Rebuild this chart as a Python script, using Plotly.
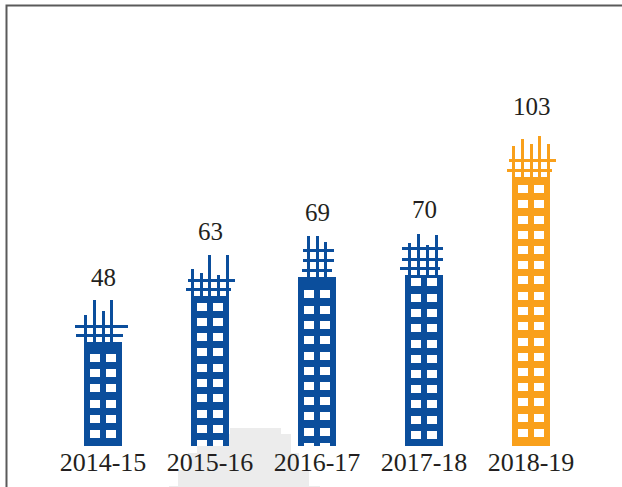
import plotly.graph_objects as go

# --- data ---
categories = ["2014-15", "2015-16", "2016-17", "2017-18", "2018-19"]
values = [48, 63, 69, 70, 103]

# --- styling / layout ---
BLUE = "#0B4E9C"
ORANGE = "#F9A01B"
colors = [BLUE, BLUE, BLUE, BLUE, ORANGE]
TEXT = "#231F20"
FONT = "Liberation Serif"
W, H = 622, 487
BASE = 446            # pixel row of the baseline
PX_PER_UNIT = 3.03
STEP = 107            # pixels between categories
FIRST = 103           # pixel column of first category

# pictogram decoration, in pixels relative to the tower centre / tower top
rod_w = 3
bar_h = 3
towers = [
    dict(rods=[(-19, 15), (-10, 0), (-1, 11), (7, 0)],
         cross=[(25, -28, 25), (34, -27, 20)], body=42,
         win_bottom=16, rows=6),
    dict(rods=[(-19, 14), (-10, 18), (-2, 0), (7, 20), (16, 0)],
         cross=[(24, -22, 25), (33, -24, 21)], body=41,
         win_bottom=6, rows=10),
    dict(rods=[(-10, 0), (-1, 0), (7, 6)],
         cross=[(13, -14, 17), (23, -14, 17), (33, -15, 15)], body=41,
         win_bottom=3, rows=11),
    dict(rods=[(-16, 10), (-7, 1), (2, 12), (11, 2)],
         cross=[(14, -22, 19), (25, -22, 19), (34, -24, 16)], body=42,
         win_bottom=15, rows=11),
    dict(rods=[(-19, 13), (-10, 6), (-1, 11), (7, 3), (16, 11)],
         cross=[(26, -22, 25), (36, -24, 21)], body=44,
         win_bottom=17, rows=17),
]
label_dx = [0, 0, 0, 0, 1]
label_dy = [23, 24, 24, 24, 27]
ROW_STEP = 15.25
WIN_H = 8
WIN_W = 10


def ux(px):
    return (px - FIRST) / STEP


def uy(px):
    return (BASE - px) / PX_PER_UNIT


tops = [int(BASE - v * PX_PER_UNIT) for v in values]
body_heights = [uy(top + t["body"]) for top, t in zip(tops, towers)]

shapes = []


def rect(x0, x1, y0, y1, color, layer="above"):
    shapes.append(dict(type="rect", xref="x", yref="y", x0=ux(x0), x1=ux(x1),
                       y0=uy(y0), y1=uy(y1), fillcolor=color,
                       line=dict(width=0), layer=layer))


for i, t in enumerate(towers):
    cx = FIRST + STEP * i
    top = tops[i]
    for dx, dy in t["rods"]:
        rect(cx + dx, cx + dx + rod_w, top + dy, top + t["body"], colors[i])
    for dy, a, b in t["cross"]:
        rect(cx + a, cx + b, top + dy, top + dy + bar_h, colors[i])
    for k in range(t["rows"]):
        wy = round(BASE - t["win_bottom"] - k * ROW_STEP)
        for wx in (-13, 3):
            rect(cx + wx, cx + wx + WIN_W, wy, min(wy + WIN_H, BASE), "white")


def pap(x, y):
    # page pixel to paper coordinates (paper spans the plot area)
    return f"{x / W:.5f},{(BASE - y) / BASE:.5f}"


# faint grey silhouette behind the chart
sil = [(169, 487), (169, 486), (178, 486), (178, 470), (188, 470), (188, 453),
       (197, 453), (197, 434), (230, 434), (230, 428), (281, 428), (281, 434),
       (291, 434), (291, 453), (299, 453), (299, 470), (309, 470), (309, 486),
       (320, 486), (320, 487)]
path = "M " + " L ".join(pap(x, y) for x, y in sil) + " Z"
shapes.append(dict(type="path", xref="paper", yref="paper", path=path,
                   fillcolor="#ECECEC", line=dict(width=0), layer="below"))

# frame on the top and left
shapes.append(dict(type="path", xref="paper", yref="paper",
                   path=f"M {pap(6.5, H)} L {pap(6.5, 5.5)} L {pap(W, 5.5)}",
                   line=dict(color="#5A5A5A", width=2), layer="above"))

fig = go.Figure(go.Bar(
    x=list(range(len(categories))), y=body_heights,
    width=38 / STEP, marker=dict(color=colors, line=dict(width=0)),
    hoverinfo="skip", showlegend=False,
))

annotations = [
    dict(x=i, y=v, xref="x", yref="y", text=str(v), showarrow=False,
         xshift=label_dx[i], yshift=label_dy[i], yanchor="middle",
         font=dict(family=FONT, size=25, color=TEXT))
    for i, v in enumerate(values)
]

fig.update_layout(
    width=W, height=H, margin=dict(l=0, r=0, t=0, b=H - BASE),
    paper_bgcolor="rgba(0,0,0,0)", plot_bgcolor="rgba(0,0,0,0)",
    showlegend=False, shapes=shapes, annotations=annotations,
    xaxis=dict(range=[ux(0), ux(W)], tickmode="array",
               tickvals=list(range(len(categories))), ticktext=categories,
               showgrid=False, zeroline=False, showline=False, ticks="",
               ticklabelstandoff=-2,
               tickfont=dict(family=FONT, size=26, color=TEXT), automargin=False),
    yaxis=dict(range=[0, uy(0)], visible=False),
)

fig.write_html("out.html", config=dict(displayModeBar=False),
               post_script="document.body.style.margin='0';document.body.style.overflow='hidden';")
